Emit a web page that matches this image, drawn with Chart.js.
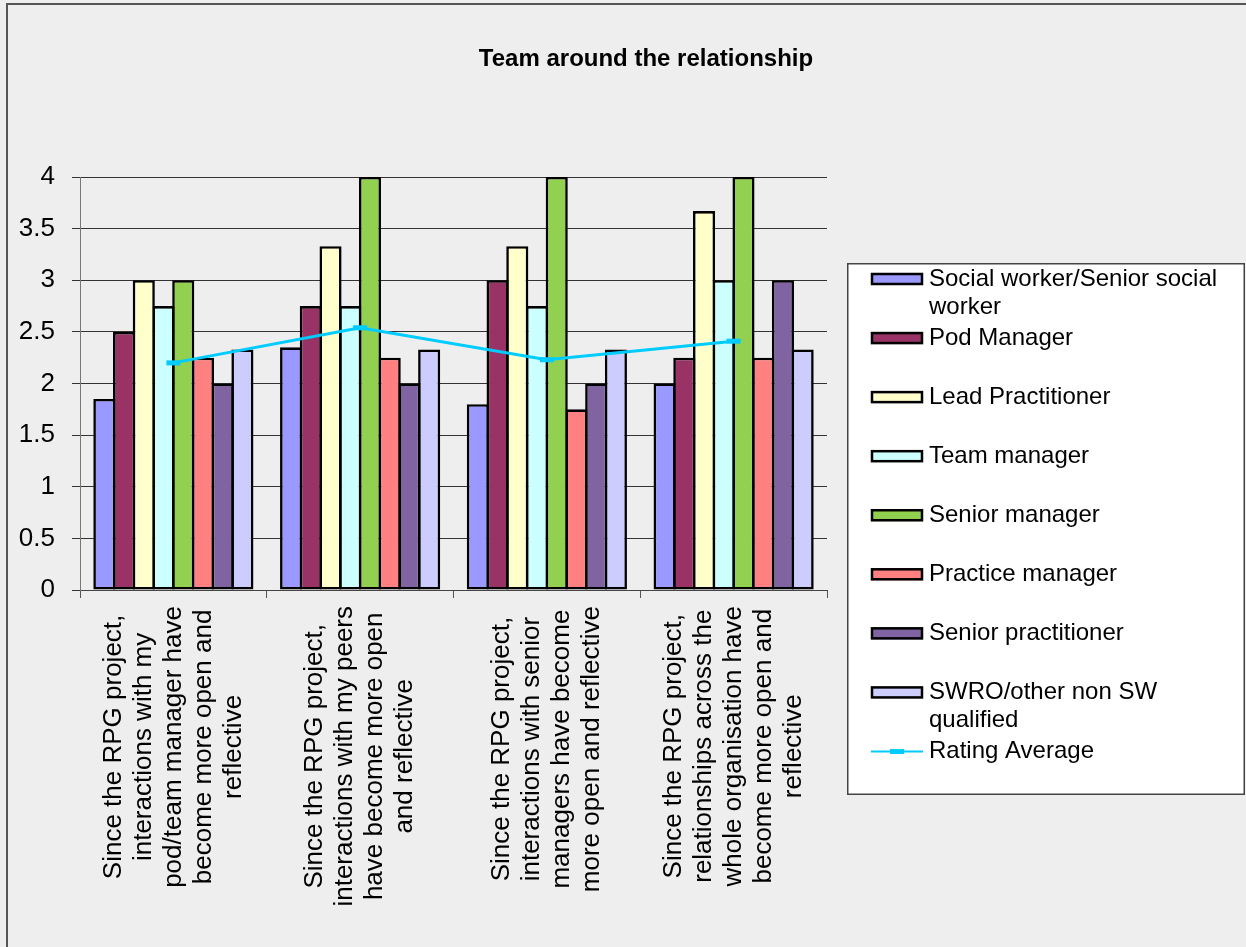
<!DOCTYPE html>
<html><head><meta charset="utf-8">
<script src="https://cdn.jsdelivr.net/npm/chart.js@4"></script>
<style>html,body{margin:0;padding:0;background:#eeeeee;overflow:hidden;} canvas{display:block;}</style>
</head><body>
<canvas id="c" width="1246" height="947"></canvas>
<script>
const categories = [
  ["Since the RPG project,", "interactions with my", "pod/team manager have", "become more open and", "reflective"],
  ["Since the RPG project,", "interactions with my peers", "have become more open", "and reflective"],
  ["Since the RPG project,", "interactions with senior", "managers have become", "more open and reflective"],
  ["Since the RPG project,", "relationships across the", "whole organisation have", "become more open and", "reflective"]
];
const seriesNames = ["Social worker/Senior social worker", "Pod Manager", "Lead Practitioner", "Team manager",
  "Senior manager", "Practice manager", "Senior practitioner", "SWRO/other non SW qualified"];
const lineName = "Rating Average";
const socialWorker = [1.85, 2.35, 1.80, 2.00];
const podManager = [2.50, 2.75, 3.00, 2.25];
const leadPractitioner = [3.00, 3.33, 3.33, 3.67];
const teamManager = [2.75, 2.75, 2.75, 3.00];
const seniorManager = [3.00, 4.00, 4.00, 4.00];
const practiceManager = [2.25, 2.25, 1.75, 2.25];
const seniorPractitioner = [2.00, 2.00, 2.00, 3.00];
const swroOther = [2.33, 2.33, 2.33, 2.33];
const ratingAverage = [2.20, 2.54, 2.23, 2.41];
const yMin = 0, yMax = 4, yStep = 0.5;
const chartTitle = "Team around the relationship";

const barSeries = [socialWorker, podManager, leadPractitioner, teamManager, seniorManager, practiceManager, seniorPractitioner, swroOther];
const barColors = ["#9999FF", "#993366", "#FFFFCC", "#CCFFFF", "#92D050", "#FF8080", "#8064A2", "#CCCCFF"];
const lineColor = "#00CCFF";
const FONT = '"Liberation Sans", Arial, sans-serif';

const datasets = barSeries.map((d, i) => ({
  type: 'bar',
  label: seriesNames[i],
  data: d,
  backgroundColor: barColors[i],
  borderColor: '#000000',
  borderWidth: 2.6,
  borderSkipped: false,
  inflateAmount: 0,
  categoryPercentage: 0.845,
  barPercentage: 1.12,
  order: 1,
  xAxisID: 'x', yAxisID: 'y'
}));
datasets.push({
  type: 'line',
  label: lineName,
  data: ratingAverage,
  borderColor: lineColor,
  backgroundColor: lineColor,
  borderWidth: 3,
  pointStyle: 'line',
  pointRadius: 7,
  pointBorderWidth: 5,
  pointBorderColor: lineColor,
  pointHoverRadius: 7,
  tension: 0,
  fill: false,
  order: 0,
  xAxisID: 'x', yAxisID: 'y'
});

function wrapText(ctx, text, maxW) {
  const words = text.split(' ');
  const lines = [];
  let cur = '';
  words.forEach(w => {
    const t = cur ? cur + ' ' + w : w;
    if (ctx.measureText(t).width > maxW && cur) { lines.push(cur); cur = w; }
    else cur = t;
  });
  if (cur) lines.push(cur);
  return lines;
}

const framePlugin = {
  id: 'frame',
  beforeDraw(chart) {
    const ctx = chart.ctx;
    ctx.save();
    ctx.fillStyle = '#eeeeee';
    ctx.fillRect(0, 0, chart.width, chart.height);
    ctx.fillStyle = '#555555';
    ctx.fillRect(6, 3, chart.width - 6, 2);
    ctx.fillRect(6, 3, 2, chart.height - 3);
    ctx.restore();
  }
};

const xLabelPlugin = {
  id: 'xLabels',
  afterDraw(chart) {
    const ctx = chart.ctx, xs = chart.scales.x;
    ctx.save();
    ctx.font = '26px ' + FONT;
    ctx.fillStyle = '#000000';
    ctx.textAlign = 'center';
    ctx.textBaseline = 'middle';
    chart.data.labels.forEach((lines, i) => {
      const x = xs.getPixelForValue(i);
      const maxW = Math.max(...lines.map(l => ctx.measureText(l).width));
      const cy = xs.top + 16 + maxW / 2;
      ctx.save();
      ctx.translate(x, cy);
      ctx.rotate(-Math.PI / 2);
      lines.forEach((l, k) => ctx.fillText(l, 0, (k - (lines.length - 1) / 2) * 30));
      ctx.restore();
    });
    ctx.restore();
  }
};

const legendPlugin = {
  id: 'boxLegend',
  afterDraw(chart) {
    const ctx = chart.ctx;
    const bx = 847, by = 263, bw = 398, bh = 532;
    ctx.save();
    ctx.fillStyle = '#ffffff';
    ctx.fillRect(bx, by, bw, bh);
    ctx.strokeStyle = '#444444';
    ctx.lineWidth = 1.5;
    ctx.strokeRect(bx + 0.75, by + 0.75, bw - 1.5, bh - 1.5);
    ctx.font = '24px ' + FONT;
    ctx.textBaseline = 'middle';
    ctx.textAlign = 'left';
    chart.data.datasets.forEach((ds, i) => {
      const y = 279 + i * 59.06;
      if (ds.type === 'line') {
        ctx.strokeStyle = ds.borderColor;
        ctx.lineWidth = 2;
        ctx.beginPath(); ctx.moveTo(871, y); ctx.lineTo(923, y); ctx.stroke();
        ctx.fillStyle = ds.borderColor;
        ctx.fillRect(890, y - 2.5, 14, 5);
      } else {
        ctx.fillStyle = ds.backgroundColor;
        ctx.fillRect(871, y - 6, 52, 12);
        ctx.strokeStyle = '#000000';
        ctx.lineWidth = 2.5;
        ctx.strokeRect(872, y - 5, 50, 10);
      }
      ctx.fillStyle = '#000000';
      const lines = wrapText(ctx, ds.label, 306);
      lines.forEach((l, k) => ctx.fillText(l, 929, y + k * 28));
    });
    ctx.restore();
  }
};

new Chart(document.getElementById('c'), {
  type: 'bar',
  data: { labels: categories, datasets: datasets },
  plugins: [framePlugin, xLabelPlugin, legendPlugin],
  options: {
    responsive: false,
    devicePixelRatio: 1,
    animation: false,
    layout: { padding: { left: 0, right: -46, top: 0, bottom: 0 } },
    plugins: {
      legend: { display: false },
      tooltip: { enabled: false },
      title: {
        display: true,
        text: chartTitle,
        color: '#000000',
        font: { family: FONT, size: 24, weight: 'bold', lineHeight: 1.2 },
        padding: { top: 45, bottom: 103.2 }
      }
    },
    scales: {
      x: {
        type: 'category',
        offset: true,
        grid: { display: true, offset: true, drawOnChartArea: false, drawTicks: true, tickLength: 8, color: '#555555', lineWidth: 1 },
        border: { display: true, color: '#444444', width: 1 },
        ticks: { display: false },
        afterFit(s) { s.height = 357; }
      },
      y: {
        type: 'linear',
        position: 'left',
        min: yMin, max: yMax,
        grid: { color: '#333333', lineWidth: 1, drawTicks: true, tickLength: 8 },
        border: { display: true, color: '#777777', width: 1 },
        ticks: {
          stepSize: yStep, color: '#000000', padding: 17,
          font: { family: FONT, size: 26 },
          callback: (v) => String(+v)
        },
        afterFit(s) { s.width = 80; }
      },
      yR: {
        type: 'linear',
        position: 'right',
        display: true,
        grid: { display: false, drawTicks: false },
        border: { display: false },
        ticks: { display: false },
        afterFit(s) { s.width = 465; }
      }
    }
  }
});
</script>
</body></html>
